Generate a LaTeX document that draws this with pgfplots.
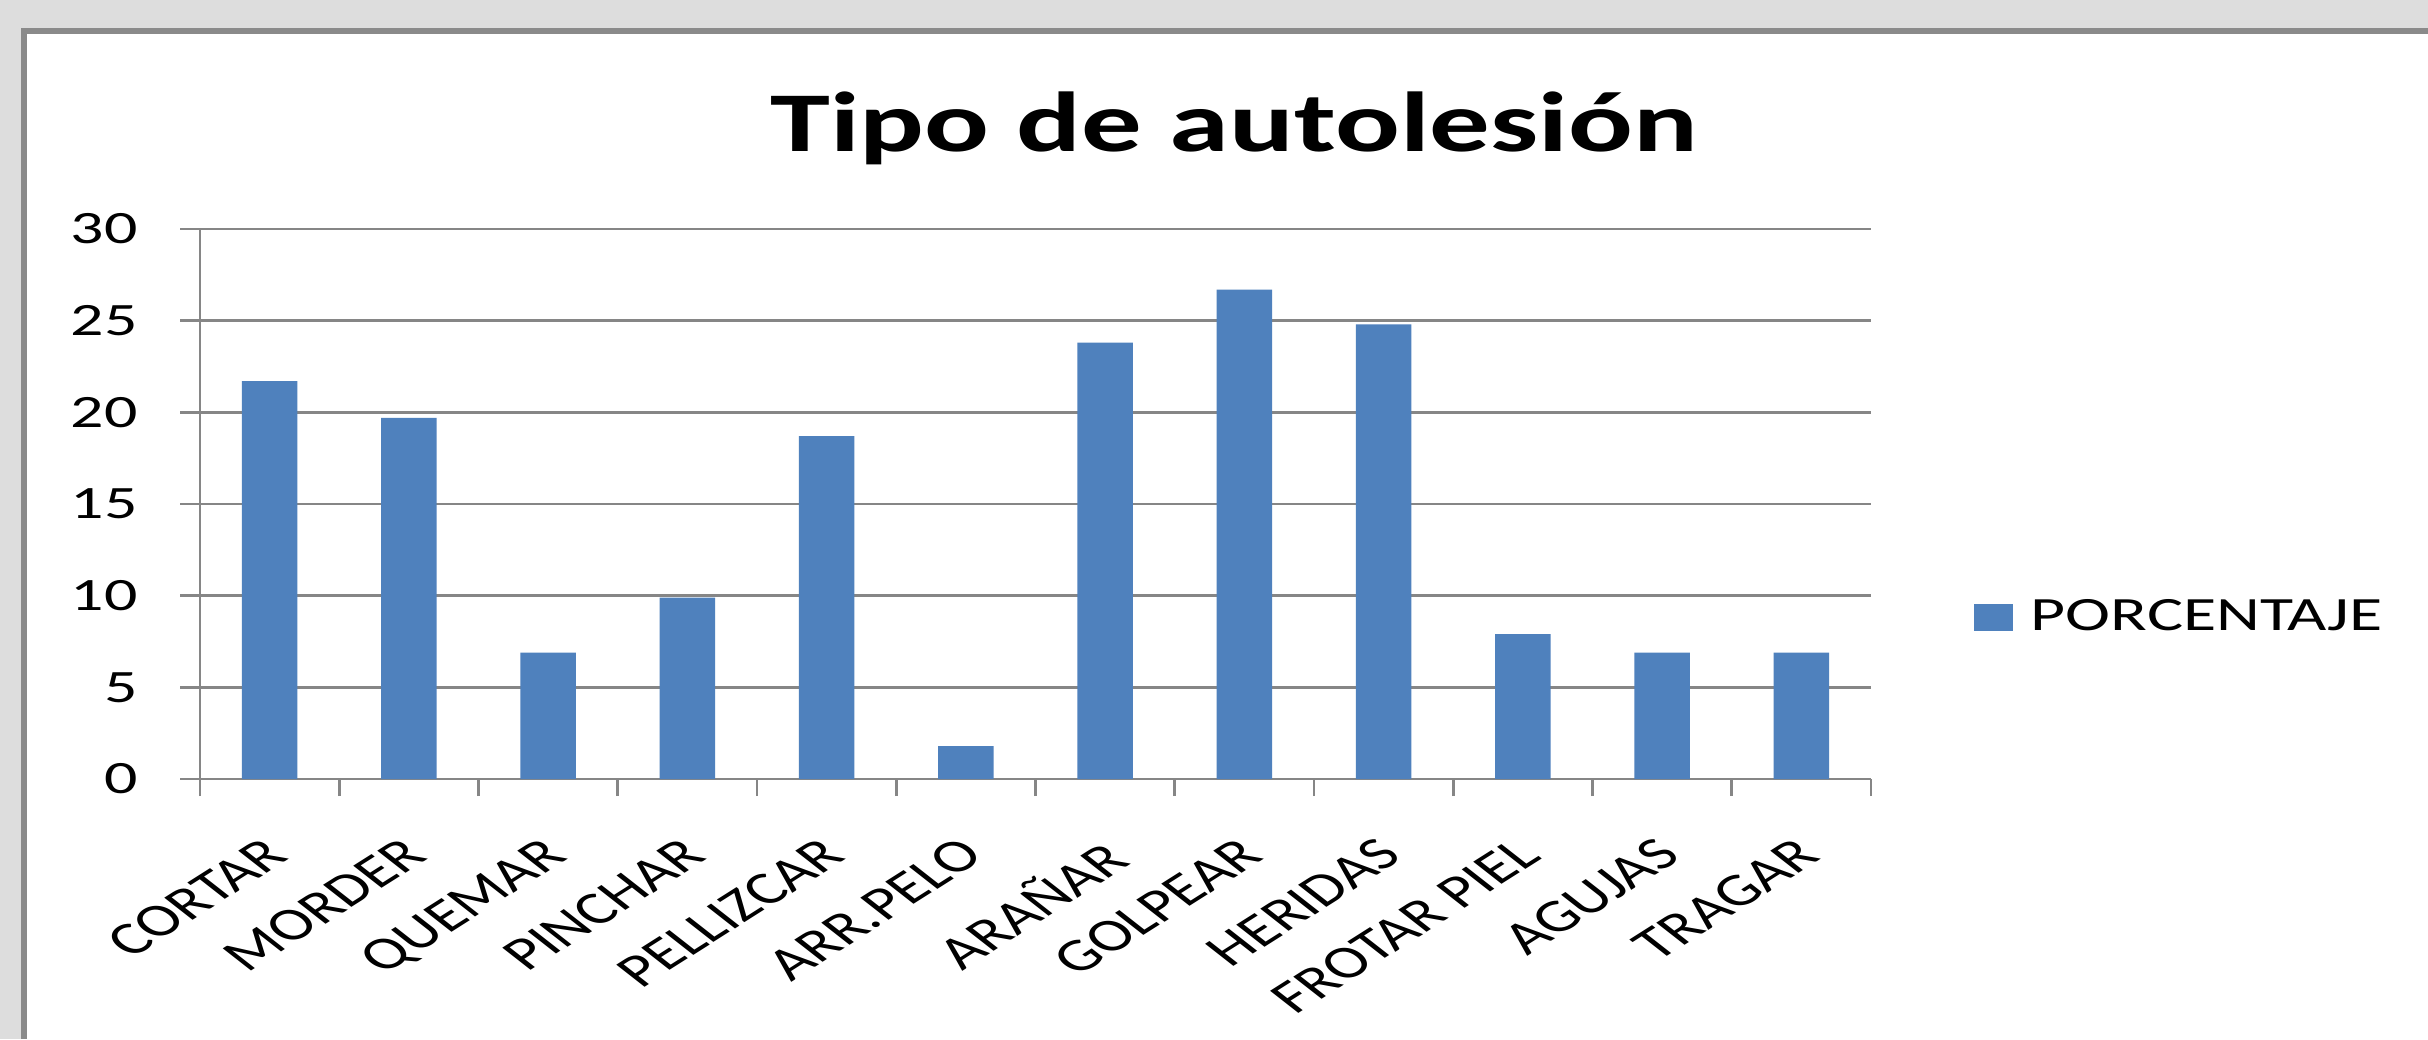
\documentclass[border=0pt]{standalone}
\usepackage{fontspec}
\setmainfont{Carlito}[FakeStretch=1.42]
\newfontfamily\labfont{Carlito}
\usepackage{pgfplots}
\pgfplotsset{compat=1.18}
\definecolor{barblue}{HTML}{4F81BD}
\definecolor{gridgray}{HTML}{868686}
\definecolor{bggray}{HTML}{DDDDDD}
\definecolor{framegray}{HTML}{8A8A8A}

\begin{document}
\begin{tikzpicture}
\useasboundingbox (0,0) rectangle (24.28,10.39);
% slide background and frame
\fill[bggray] (0,0) rectangle (24.28,10.39);
\fill[white] (0.21,0) rectangle (24.28,10.11);
\fill[framegray] (0.21,0) rectangle (0.27,10.11);
\fill[framegray] (0.21,10.05) rectangle (24.28,10.11);

\begin{axis}[at={(2.00cm,2.60cm)}, anchor=south west,
  scale only axis, width=16.71cm, height=5.50cm,
  xmin=-0.5, xmax=11.5, ymin=0, ymax=30,
  ybar, bar width=0.555cm,
  axis lines*=left,
  axis line style={gridgray, line width=0.8pt},
  ymajorgrids, grid style={gridgray, line width=0.8pt},
  tick align=outside,
  ytick={0,5,...,30},
  y tick style={gridgray, line width=0.8pt},
  major tick length=0.2cm,
  minor tick length=0.17cm,
  xtick={0,1,...,11},
  xticklabels={CORTAR,MORDER,QUEMAR,PINCHAR,PELLIZCAR,ARR.PELO,ARAÑAR,GOLPEAR,HERIDAS,FROTAR PIEL,AGUJAS,TRAGAR},
  major x tick style={draw=none},
  minor xtick={-0.5,0.5,...,11.5},
  minor x tick style={gridgray, line width=0.8pt},
  xticklabel style={font=\labfont\fontsize{13.2}{15}\selectfont,
    anchor=north east, inner sep=0pt, yshift=-0.36cm, xshift=-0.08cm,
    xscale=1.42, rotate=42},
  yticklabel style={font=\fontsize{13.2}{15}\selectfont, xshift=-0.3cm},
  /pgf/number format/assume math mode=true,
  title={Tipo de autolesión},
  title style={font=\bfseries\fontsize{24.2}{29}\selectfont, at={(0.6188,1)}, anchor=base, yshift=0.56cm},
  legend style={draw=none, fill=none, at={(1.061,0.293)}, anchor=west,
    font=\fontsize{13.6}{15}\selectfont, inner sep=0pt},
]
\addplot[fill=barblue, draw=none,
  legend image code/.code={\fill[barblue] (0cm,-0.135cm) rectangle (0.39cm,0.135cm);}]
  coordinates {(0,21.7) (1,19.7) (2,6.9) (3,9.9) (4,18.7) (5,1.8)
               (6,23.8) (7,26.7) (8,24.8) (9,7.9) (10,6.9) (11,6.9)};
\addlegendentry{\hspace{0.11cm}PORCENTAJE}
\end{axis}
\end{tikzpicture}
\end{document}
